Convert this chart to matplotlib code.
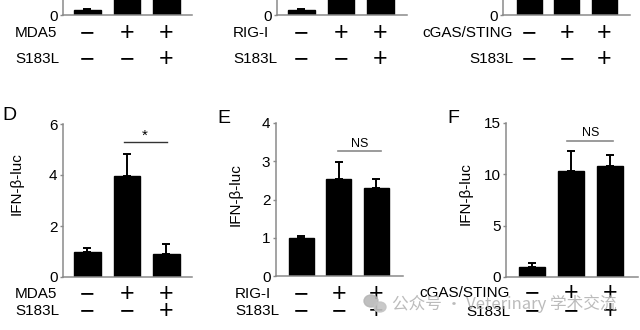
import matplotlib
matplotlib.use("Agg")
import matplotlib.pyplot as plt
from matplotlib.patches import Ellipse
import numpy as np

plt.rcParams['font.family'] = ['Liberation Sans', 'DejaVu Sans']

# ---------------- data ----------------
groups = ["1", "2", "3"]
# top row (panels A-C, only their bottoms are visible)
a_mean = [1.0, 20.0, 20.0]
a_err = [0.12, 2.0, 2.0]
b_mean = [1.0, 20.0, 20.0]
b_err = [0.12, 2.0, 2.0]
c_mean = [8.0, 20.0, 21.0]
c_err = [0.5, 2.0, 2.0]
# bottom row
d_mean = [1.0, 3.96, 0.92]
d_err = [0.15, 0.88, 0.36]
e_mean = [1.0, 2.53, 2.29]
e_err = [0.04, 0.44, 0.24]
f_mean = [1.0, 10.3, 10.84]
f_err = [0.33, 1.97, 1.04]

d_ticks = [0, 2, 4, 6]
e_ticks = [0, 1, 2, 3, 4]
f_ticks = [0, 5, 10, 15]

row1_names = ["MDA5", "RIG-I", "cGAS/STING"]
row2_name = "S183L"
row1_signs = ["−", "+", "+"]
row2_signs = ["−", "−", "+"]
sig_labels = ["*", "NS", "NS"]
ylabel = "IFN-β-luc"
watermark = "公众号 · Veterinary 学术交流"

W, H = 640, 330
fig = plt.figure(figsize=(W / 100, H / 100), dpi=100)

GRAY = "#8a8a8a"
FS = 11


def rect(left, right, top, bottom):
    return [left / W, 1 - bottom / H, (right - left) / W, (bottom - top) / H]


def fx(px):
    return px / W


def fy(py):
    return 1 - py / H


def make_ax(r, means, errs, ylim, ticks, xlim):
    ax = fig.add_axes(r)
    x = np.arange(len(groups))
    ax.bar(x, means, width=0.67, color="black", edgecolor="black", zorder=2)
    ax.errorbar(x, means, yerr=[np.zeros(len(errs)), errs], fmt="none",
                ecolor="black", elinewidth=1.4, capsize=2.6, capthick=1.4, zorder=3)
    ax.set_xlim(*xlim)
    ax.set_ylim(*ylim)
    ax.set_yticks(ticks)
    ax.set_yticklabels([str(t) for t in ticks], fontsize=FS)
    ax.set_xticks([])
    for s in ["top", "right"]:
        ax.spines[s].set_visible(False)
    for s in ["left", "bottom"]:
        ax.spines[s].set_color(GRAY)
        ax.spines[s].set_linewidth(1.1)
    ax.tick_params(axis="y", length=2.5, width=1, color=GRAY, pad=1.5)
    ax.patch.set_visible(False)
    return ax


def sign_rows(ax, y1, y2, name1, name_x, ha):
    trans = matplotlib.transforms.blended_transform_factory(ax.transData, fig.transFigure)
    for i in range(3):
        ax.text(i, fy(y1), row1_signs[i], transform=trans, ha="center", va="center",
                fontsize=18, clip_on=False)
        ax.text(i, fy(y2), row2_signs[i], transform=trans, ha="center", va="center",
                fontsize=18, clip_on=False)
    fig.text(fx(name_x), fy(y1), name1, ha=ha, va="center", fontsize=FS)
    fig.text(fx(name_x), fy(y2), row2_name, ha=ha, va="center", fontsize=FS)


# ---------------- top row (cropped panels) ----------------
top_b = 15.3
top_t = top_b - 5.3 * 30
axA = make_ax(rect(63, 192, top_t, top_b), a_mean, a_err, (0, 30), [0], (-0.62, 2.65))
axB = make_ax(rect(277, 407, top_t, top_b), b_mean, b_err, (0, 30), [0], (-0.62, 2.67))
axC = make_ax(rect(503, 630, top_t, top_b), c_mean, c_err, (0, 30), [0], (-0.7, 2.68))
sign_rows(axA, 33, 59, row1_names[0], 15, "left")
sign_rows(axB, 33, 59, row1_names[1], 233, "left")
sign_rows(axC, 33, 59, row1_names[2], 513, "right")

# ---------------- bottom row ----------------
axD = make_ax(rect(63, 192, 124, 277), d_mean, d_err, (0, 6), d_ticks, (-0.62, 2.65))
axE = make_ax(rect(276, 403, 123, 276), e_mean, e_err, (0, 4), e_ticks, (-0.68, 2.71))
axF = make_ax(rect(506, 638, 123, 277), f_mean, f_err, (0, 15), f_ticks, (-0.67, 2.72))
sign_rows(axD, 294, 311, row1_names[0], 15, "left")
sign_rows(axE, 294, 311, row1_names[1], 235, "left")
sign_rows(axF, 293, 311.5, row1_names[2], 510, "right")

# significance bars
axD.plot([0.93, 2.02], [5.28, 5.28], color="#333333", lw=1.0, clip_on=False)
axD.text(1.46, 5.55, sig_labels[0], ha="center", va="center", fontsize=11)
axE.plot([0.97, 2.13], [3.27, 3.27], color=GRAY, lw=1.2, clip_on=False)
axE.text(1.55, 3.46, sig_labels[1], ha="center", va="center", fontsize=9)
axF.plot([0.9, 2.08], [13.25, 13.25], color=GRAY, lw=1.2, clip_on=False)
axF.text(1.5, 14.0, sig_labels[2], ha="center", va="center", fontsize=9)

# y labels
fig.text(fx(17), fy(184), ylabel, rotation=90, ha="center", va="center", fontsize=FS)
fig.text(fx(235.5), fy(195), ylabel, rotation=90, ha="center", va="center", fontsize=FS)
fig.text(fx(466), fy(194), ylabel, rotation=90, ha="center", va="center", fontsize=FS)

# panel letters
fig.text(fx(2), fy(116), "D", ha="left", va="center", fontsize=14)
fig.text(fx(217), fy(118), "E", ha="left", va="center", fontsize=14)
fig.text(fx(447), fy(118), "F", ha="left", va="center", fontsize=14)

# watermark
fig.text(fx(392), fy(304), watermark, ha="left", va="center", fontsize=12,
         color="#b0b0b0", alpha=0.85,
         family=["Noto Sans CJK SC", "DejaVu Sans"])
ax_w = fig.add_axes([0, 0, 1, 1])
ax_w.set_xlim(0, W)
ax_w.set_ylim(H, 0)
ax_w.axis("off")
ax_w.add_patch(Ellipse((371, 301), 14, 12, color="#b4b4b4", alpha=0.85))
ax_w.add_patch(Ellipse((380, 307), 12, 10, color="#c4c4c4", alpha=0.9))

fig.savefig("out.png", dpi=100)
